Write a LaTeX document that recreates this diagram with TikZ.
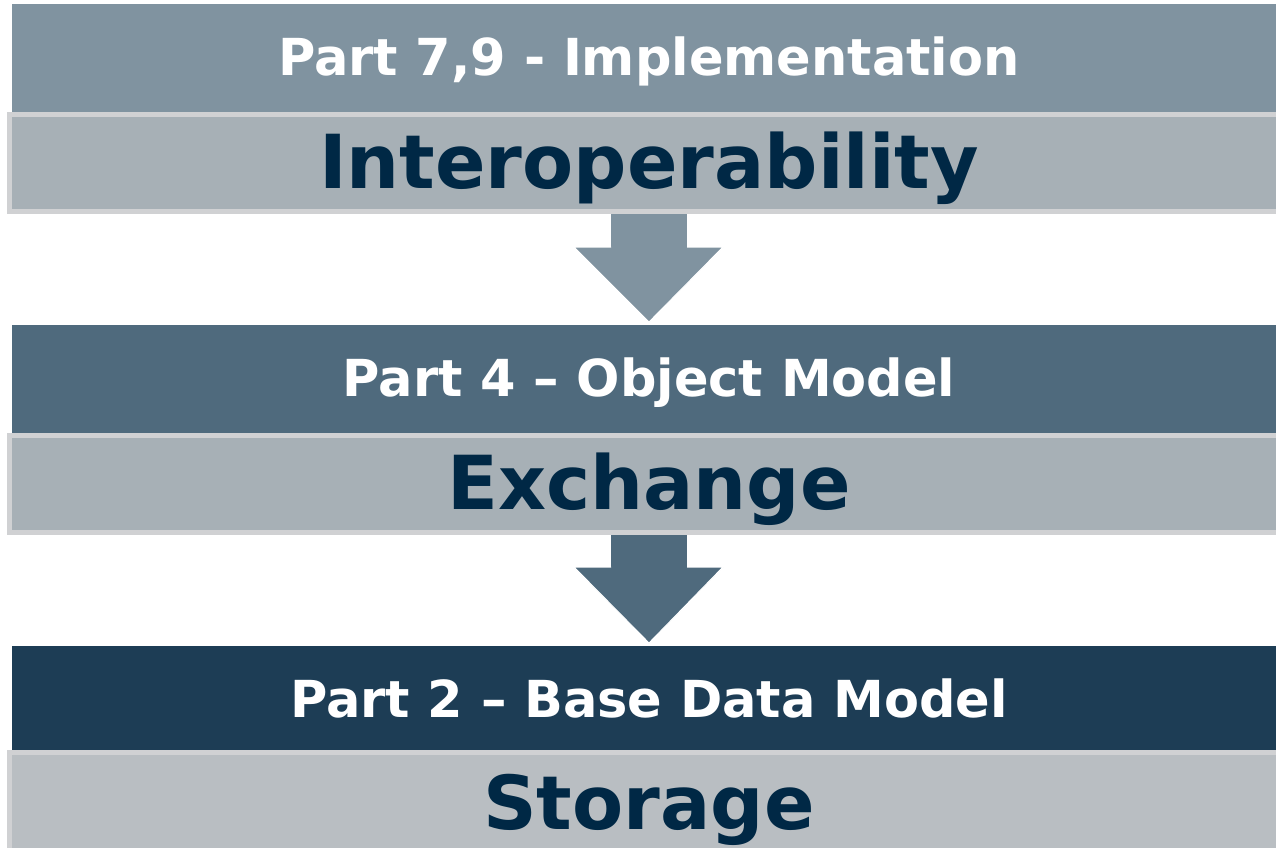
\documentclass[tikz,border=0pt]{standalone}
\usepackage{fontspec}
\setmainfont{DejaVu Sans}
\definecolor{cA}{RGB}{128,147,160}
\definecolor{cB}{RGB}{79,106,125}
\definecolor{cC}{RGB}{29,61,85}
\definecolor{gA}{RGB}{167,176,182}
\definecolor{gC}{RGB}{185,190,194}
\definecolor{bord}{RGB}{208,209,211}
\definecolor{navy}{RGB}{0,40,69}
\tikzset{
  hdrtext/.style={text=white, font=\fontsize{51}{51}\selectfont\bfseries, anchor=base, inner sep=0pt},
  bigtext/.style={text=navy, font=\fontsize{74.5}{74.5}\selectfont\bfseries, anchor=base, inner sep=0pt},
  graybar/.style={fill=#1, draw=bord, line width=5pt},
  blockarrow/.style={fill=#1, draw=white, line width=1pt, line join=miter}
}
\begin{document}
\begin{tikzpicture}[x=1pt,y=-1pt]
\useasboundingbox (0,0) rectangle (1276,847);
% arrows (behind bars)
\fill[cA] (611,205) rectangle (687,248);
\draw[blockarrow=cA] (611,247) -- (574,247) -- (649,322) -- (723,247) -- (687,247);
\fill[cB] (611,526) rectangle (687,568);
\draw[blockarrow=cB] (611,567) -- (574,567) -- (649,643) -- (723,567) -- (687,567);
% level 1
\fill[cA] (12,4) rectangle (1280,112);
\draw[graybar=gA] (9,114.5) rectangle (1285,211);
\node[hdrtext] (p1) at (649,75) {Part 7,9 - Implementation};
\node[bigtext] (w1) at (649,188) {Interoperability};
% level 2
\fill[cB] (12,325) rectangle (1280,433);
\draw[graybar=gA] (9,435.5) rectangle (1285,532);
\node[hdrtext] (p2) at (649,396) {Part 4 – Object Model};
\node[bigtext] (w2) at (649,509) {Exchange};
% level 3
\fill[cC] (12,646) rectangle (1280,750);
\draw[graybar=gC] (9,752.5) rectangle (1285,860);
\node[hdrtext] (p3) at (649,717) {Part 2 – Base Data Model};
\node[bigtext] (w3) at (649,829) {Storage};
\end{tikzpicture}
\end{document}
